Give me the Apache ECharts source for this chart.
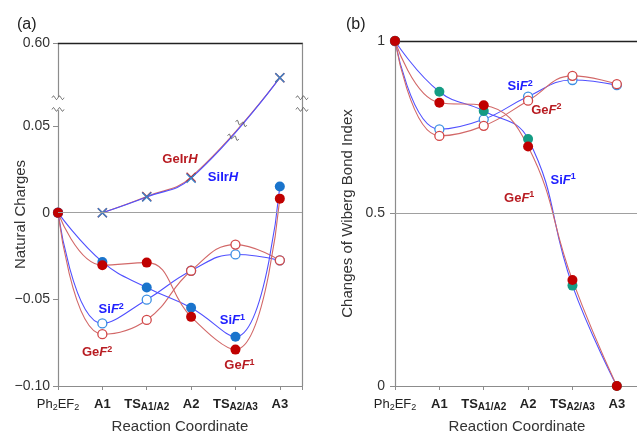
<!DOCTYPE html>
<html>
<head>
<meta charset="utf-8">
<title>Natural charges / Wiberg bond index</title>
<script src="https://cdn.jsdelivr.net/npm/echarts@6.0.0/dist/echarts.min.js"></script>
<style>
  html, body { margin: 0; padding: 0; background: #fff; }
  #chart { width: 637px; height: 432px; }
</style>
</head>
<body>
<div id="chart"></div>
<script>
// reaction coordinate, one step per x unit
var steps = ['Ph2EF2', 'A1', 'TS_A1/A2', 'A2', 'TS_A2/A3', 'A3'];
var stepLabels = ['{n|Ph}{s|2}{n|EF}{s|2}', '{b|A1}', '{b|TS}{bs|A1/A2}', '{b|A2}', '{b|TS}{bs|A2/A3}', '{b|A3}'];

// (a) natural charges
var chargeSiF1 = [0, -0.0284, -0.0432, -0.0549, -0.0716, 0.0151];
var chargeGeF1 = [0, -0.0303, -0.0288, -0.0601, -0.0790, 0.0081];
var chargeSiF2 = [0, -0.0639, -0.0502, -0.0335, -0.0241, -0.0275];
var chargeGeF2 = [0, -0.0701, -0.0619, -0.0335, -0.0184, -0.0275];
var chargeSiIrH = [null, 0, 0.0091, 0.0199, null, 0.58];
var chargeGeIrH = [null, 0, 0.0094, 0.0205, null, 0.58];
var chargeTicks = [-0.1, -0.05, 0, 0.05, 0.6];
var chargeTickText = ['\u22120.10', '\u22120.05', '0', '0.05', '0.60'];

// (b) changes of Wiberg bond index
var wbiSiF1 = [1, 0.853, 0.797, 0.716, 0.291, 0];
var wbiGeF1 = [1, 0.821, 0.814, 0.694, 0.307, 0];
var wbiSiF2 = [1, 0.744, 0.773, 0.839, 0.887, 0.872];
var wbiGeF2 = [1, 0.725, 0.754, 0.827, 0.899, 0.875];

var FONT = 'Liberation Sans, Arial, sans-serif';
var SI_LINE = '#5050ff', GE_LINE = '#d26868';
var SI_DOT = '#1a74cc', SI_DOT_B = '#149c84', GE_DOT = '#c00000';
var SI_RING = '#3b8fe3', GE_RING = '#d24848';
var CROSS = 'path://M0,1L1,0L5,4L9,0L10,1L6,5L10,9L9,10L5,6L1,10L0,9L4,5Z';

function pts(vals) {
  var out = [];
  vals.forEach(function (v, i) { if (v !== null) out.push([i, v]); });
  return out;
}

function lineSeries(ax, vals, lineColor, item, symbol, size) {
  return {
    type: 'line', xAxisIndex: ax.x, yAxisIndex: ax.y,
    data: pts(vals), smooth: 0.45, connectNulls: true,
    symbol: symbol, symbolSize: size, showAllSymbol: true,
    lineStyle: { color: lineColor, width: 1.1 },
    itemStyle: item, emphasis: { disabled: true }
  };
}

var axA = { x: 0, y: 0 }, axB = { x: 2, y: 2 };

var catLabel = {
  color: '#222', fontFamily: FONT, margin: 10,
  formatter: function (v) { return (v === Math.round(v) && v >= 0 && v < steps.length) ? stepLabels[v] : ''; },
  rich: {
    n: { fontSize: 13, fontFamily: FONT, color: '#222', lineHeight: 16 },
    s: { fontSize: 9, fontFamily: FONT, color: '#222', lineHeight: 8, verticalAlign: 'bottom' },
    b: { fontSize: 13, fontFamily: FONT, color: '#222', fontWeight: 'bold', lineHeight: 16 },
    bs: { fontSize: 10, fontFamily: FONT, color: '#222', fontWeight: 'bold', lineHeight: 8, verticalAlign: 'bottom' }
  }
};

function bottomAxis(grid) {
  return {
    type: 'value', gridIndex: grid, min: 0, max: 5.5, interval: 1,
    name: 'Reaction Coordinate', nameLocation: 'middle', nameGap: 33, nameMoveOverlap: false,
    nameTextStyle: { fontFamily: FONT, fontSize: 15, color: '#333' },
    axisLine: { onZero: false, lineStyle: { color: '#8c8c8c', width: 1.2 } },
    axisTick: { inside: false, length: 4, lineStyle: { color: '#8c8c8c' } },
    axisLabel: catLabel, splitLine: { show: false }
  };
}
function topAxis(grid) {
  return {
    type: 'value', gridIndex: grid, position: 'top', min: 0, max: 5.5,
    axisLine: { onZero: false, lineStyle: { color: '#222', width: 1.3 } },
    axisTick: { show: false }, axisLabel: { show: false }, splitLine: { show: false }
  };
}

var option = {
  animation: false,
  backgroundColor: '#fff',
  title: [
    { text: '(a)', left: 12, top: 12, textStyle: { fontFamily: FONT, fontSize: 16, fontWeight: 'normal', color: '#222' } },
    { text: '(b)', left: 341, top: 12, textStyle: { fontFamily: FONT, fontSize: 16, fontWeight: 'normal', color: '#222' } }
  ],
  grid: [
    { left: 58, right: 335, top: 43, bottom: 46, outerBoundsMode: 'none' },
    { left: 395, right: -2, top: 41, bottom: 46, outerBoundsMode: 'none' }
  ],
  xAxis: [bottomAxis(0), topAxis(0), bottomAxis(1), topAxis(1)],
  yAxis: [
    {
      type: 'value', gridIndex: 0, min: -0.1, max: 0.6, interval: 0.05,
      breaks: [{ start: 0.059, end: 0.569, gap: '4%' }],
      breakArea: { show: false },
      name: 'Natural Charges', nameLocation: 'middle', nameGap: 30, nameMoveOverlap: false,
      nameTextStyle: { fontFamily: FONT, fontSize: 15, color: '#333' },
      axisLine: { show: true, onZero: false, lineStyle: { color: '#8c8c8c', width: 1.2 } },
      axisTick: { show: true, length: 5, customValues: chargeTicks, lineStyle: { color: '#8c8c8c' } },
      axisLabel: {
        fontFamily: FONT, fontSize: 14, color: '#333', margin: 8, customValues: chargeTicks,
        formatter: function (v) {
          for (var i = 0; i < chargeTicks.length; i++) {
            if (Math.abs(v - chargeTicks[i]) < 1e-6) return chargeTickText[i];
          }
          return '';
        }
      },
      splitLine: { show: false }
    },
    {
      type: 'value', gridIndex: 0, position: 'right', min: 0, max: 1,
      axisLine: { show: true, onZero: false, lineStyle: { color: '#8c8c8c', width: 1.2 } },
      axisTick: { show: false }, axisLabel: { show: false }, splitLine: { show: false }
    },
    {
      type: 'value', gridIndex: 1, min: 0, max: 1, interval: 0.5,
      name: 'Changes of Wiberg Bond Index', nameLocation: 'middle', nameGap: 40, nameMoveOverlap: false,
      nameTextStyle: { fontFamily: FONT, fontSize: 15, color: '#333' },
      axisLine: { show: true, onZero: false, lineStyle: { color: '#8c8c8c', width: 1.2 } },
      axisTick: { show: true, length: 5, lineStyle: { color: '#8c8c8c' } },
      axisLabel: { fontFamily: FONT, fontSize: 14, color: '#333', margin: 10 },
      splitLine: { show: false }
    }
  ],
  series: [
    // (a)
    Object.assign(lineSeries(axA, chargeSiF2, SI_LINE, { color: '#fff', borderColor: SI_RING, borderWidth: 1.3 }, 'circle', 9), {
      markLine: { silent: true, symbol: 'none', label: { show: false }, animation: false,
        lineStyle: { color: '#a0a0a0', width: 1, type: 'solid' }, data: [{ yAxis: 0 }] }
    }),
    lineSeries(axA, chargeGeF2, GE_LINE, { color: '#fff', borderColor: GE_RING, borderWidth: 1.3 }, 'circle', 9),
    lineSeries(axA, chargeSiF1, SI_LINE, { color: SI_DOT }, 'circle', 10),
    lineSeries(axA, chargeGeF1, GE_LINE, { color: GE_DOT }, 'circle', 10),
    lineSeries(axA, chargeGeIrH, GE_LINE, { color: '#c0262c' }, CROSS, 10),
    lineSeries(axA, chargeSiIrH, SI_LINE, { color: '#3a82c8' }, CROSS, 10),
    // (b)
    Object.assign(lineSeries(axB, wbiSiF2, SI_LINE, { color: '#fff', borderColor: SI_RING, borderWidth: 1.3 }, 'circle', 9), {
      markLine: { silent: true, symbol: 'none', label: { show: false }, animation: false,
        lineStyle: { color: '#a0a0a0', width: 1, type: 'solid' }, data: [{ yAxis: 0.5 }] }
    }),
    lineSeries(axB, wbiGeF2, GE_LINE, { color: '#fff', borderColor: GE_RING, borderWidth: 1.3 }, 'circle', 9),
    lineSeries(axB, wbiSiF1, SI_LINE, { color: SI_DOT_B }, 'circle', 10),
    lineSeries(axB, wbiGeF1, GE_LINE, { color: GE_DOT }, 'circle', 10)
  ]
};

var chart = echarts.init(document.getElementById('chart'));
chart.setOption(option);

// annotations, placed in data coordinates
function rich(color) {
  return {
    r: { fill: color, fontFamily: FONT, fontSize: 13, fontWeight: 'bold', lineHeight: 16 },
    i: { fill: color, fontFamily: FONT, fontSize: 13, fontWeight: 'bold', fontStyle: 'italic', lineHeight: 16 },
    p: { fill: color, fontFamily: FONT, fontSize: 9, fontWeight: 'bold', lineHeight: 9, verticalAlign: 'top' }
  };
}
var SI_TXT = '#2020ff', GE_TXT = '#b81c22';
var notes = [
  { g: 0, at: [2.75, 0.031], text: '{r|GeIr}{i|H}', color: GE_TXT },
  { g: 0, at: [3.72, 0.0206], text: '{r|SiIr}{i|H}', color: SI_TXT },
  { g: 0, at: [1.2, -0.0561], text: '{r|Si}{i|F}{p|2}', color: SI_TXT },
  { g: 0, at: [0.88, -0.0809], text: '{r|Ge}{i|F}{p|2}', color: GE_TXT },
  { g: 0, at: [3.93, -0.0624], text: '{r|Si}{i|F}{p|1}', color: SI_TXT },
  { g: 0, at: [4.09, -0.0884], text: '{r|Ge}{i|F}{p|1}', color: GE_TXT },
  { g: 1, at: [2.82, 0.867], text: '{r|Si}{i|F}{p|2}', color: SI_TXT },
  { g: 1, at: [3.41, 0.800], text: '{r|Ge}{i|F}{p|2}', color: GE_TXT },
  { g: 1, at: [3.79, 0.597], text: '{r|Si}{i|F}{p|1}', color: SI_TXT },
  { g: 1, at: [2.80, 0.545], text: '{r|Ge}{i|F}{p|1}', color: GE_TXT }
];

var graphics = notes.map(function (n) {
  var p = chart.convertToPixel({ gridIndex: n.g }, n.at);
  return { type: 'text', x: p[0], y: p[1], z: 100,
    style: { text: n.text, rich: rich(n.color), align: 'center', verticalAlign: 'middle' } };
});

var top = chart.convertToPixel({ gridIndex: 0 }, [5, chargeGeIrH[5]]);
graphics.push({ type: 'text', x: top[0] - 12, y: top[1], z: 100,
  style: { text: '0.58', fill: '#111', fontFamily: FONT, fontSize: 16, align: 'right', verticalAlign: 'middle' } });

// broken-axis marks
var WAVE = [[-6, 0], [-4.5, -1.8], [-3, 0], [-1.5, 1.8], [0, 0], [1.5, -1.8], [3, 0], [4.5, 1.8], [6, 0]];
function wave(x, y, rot) {
  return { type: 'polyline', x: x, y: y, rotation: rot || 0, z: 100,
    shape: { points: WAVE, smooth: 0.4 }, style: { stroke: '#555', lineWidth: 0.9, fill: null } };
}
var lowEdge = chart.convertToPixel({ gridIndex: 0 }, [0, 0.059]);
var highEdge = chart.convertToPixel({ gridIndex: 0 }, [5.5, 0.569]);
[lowEdge[1] - 1, highEdge[1] + 1].forEach(function (y) {
  graphics.push(wave(lowEdge[0], y));
  graphics.push(wave(highEdge[0], y));
});
var onLine1 = chart.convertToPixel({ gridIndex: 0 }, [3.95, 0.0435]);
var onLine2 = chart.convertToPixel({ gridIndex: 0 }, [4.13, 0.0515]);
graphics.push(wave(onLine1[0], onLine1[1], -0.3));
graphics.push(wave(onLine2[0], onLine2[1], -0.3));

chart.setOption({ graphic: graphics });
</script>
</body>
</html>
